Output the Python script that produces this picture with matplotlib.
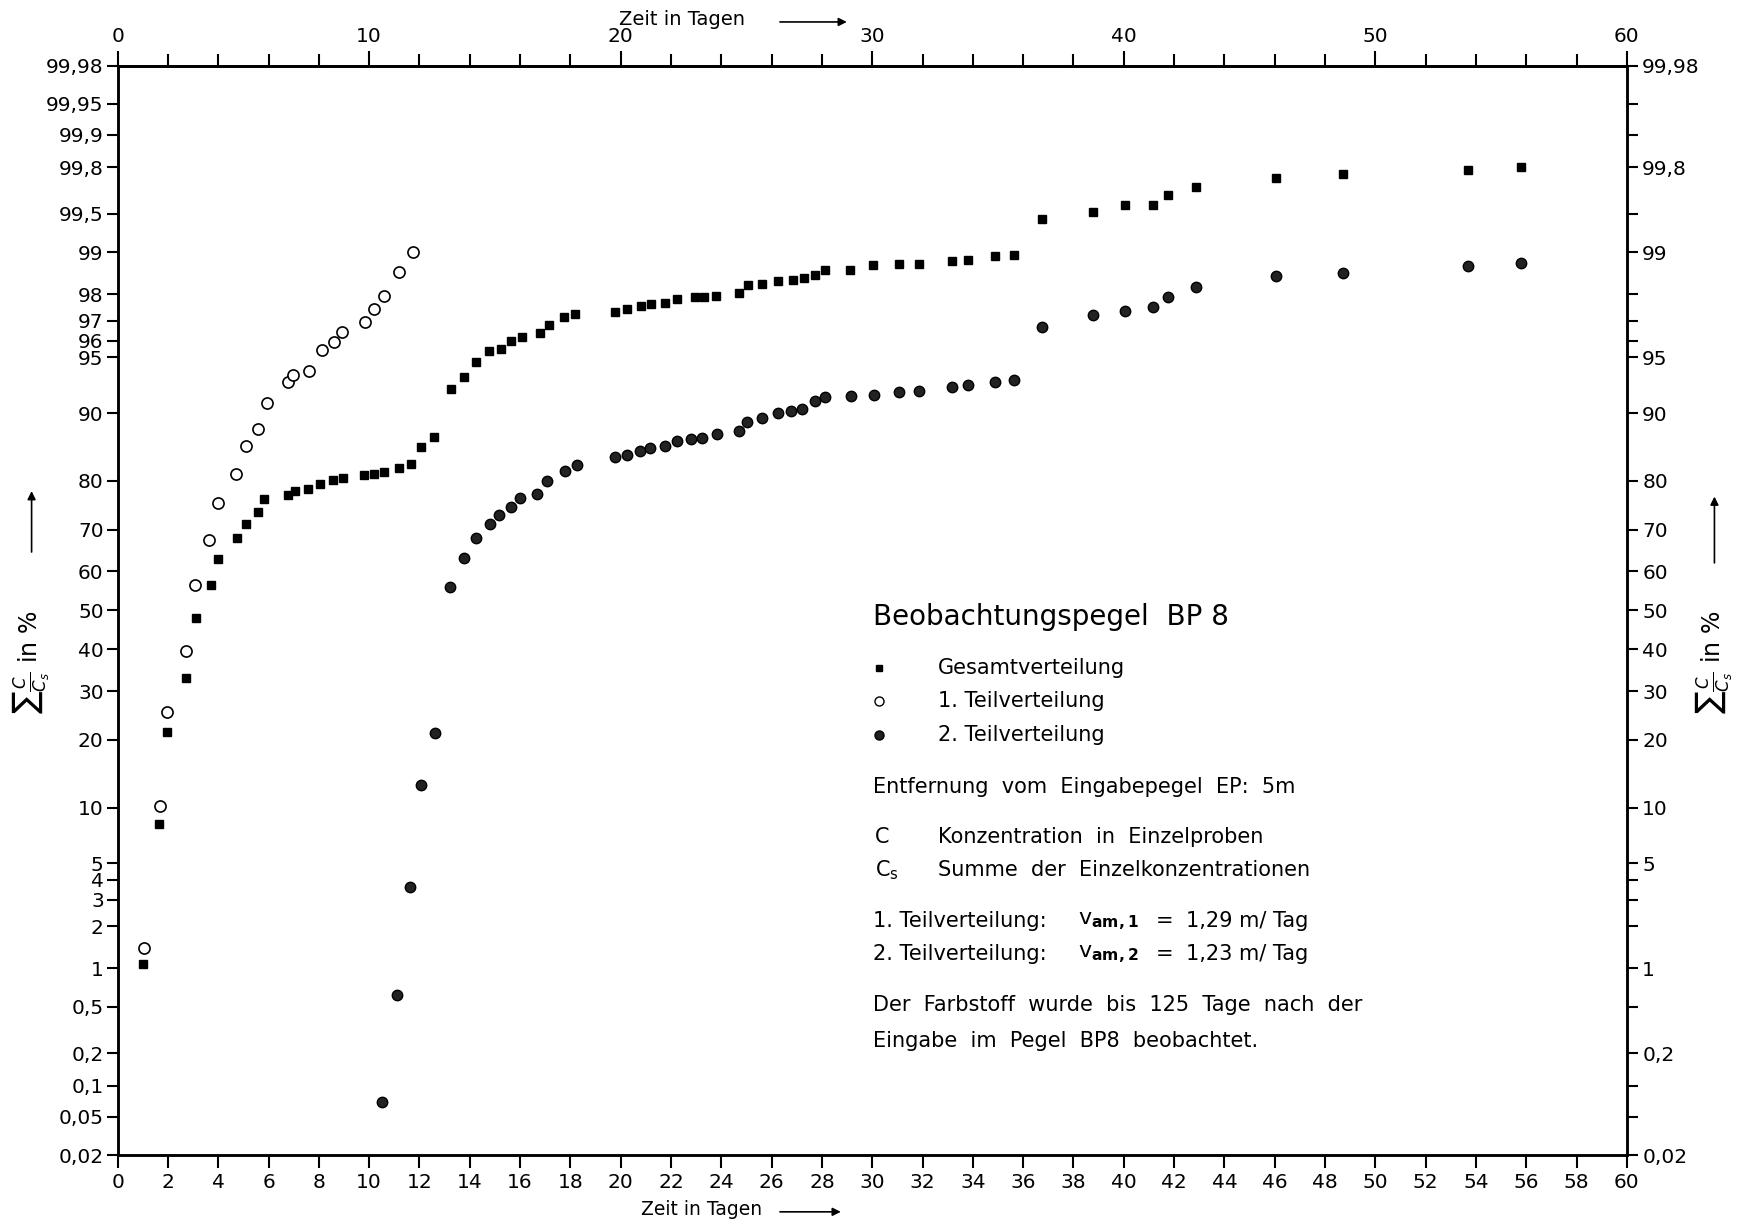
import numpy as np
import matplotlib
matplotlib.use("Agg")
import matplotlib.pyplot as plt
from statistics import NormalDist

ND = NormalDist()

# Gesamtverteilung (Quadrate): Zeit in Tagen, Summe C/Cs in %
gesamt_tage = [1.0, 1.64, 1.97, 2.72, 3.12, 3.71, 4.0, 4.73, 5.1, 5.57, 5.83, 6.76, 7.05,
               7.58, 8.05, 8.55, 8.97, 9.8, 10.2, 10.6, 11.2, 11.65, 12.05, 12.57, 13.24,
               13.77, 14.24, 14.78, 15.23, 15.62, 16.08, 16.78, 17.13, 17.76, 18.2, 19.76,
               20.23, 20.8, 21.22, 21.75, 22.22, 22.96, 23.33, 23.78, 24.7, 25.06, 25.6,
               26.24, 26.83, 27.3, 27.73, 28.14, 29.13, 30.03, 31.05, 31.85, 33.17, 33.82,
               34.86, 35.65, 36.73, 38.76, 40.05, 41.18, 41.76, 42.88, 46.05, 48.7, 53.7, 55.8]
gesamt_proz = [1.08, 8.3, 21.4, 33.0, 48.1, 56.5, 63.0, 68.2, 71.2, 73.8, 76.5, 77.3, 78.1,
               78.5, 79.5, 80.1, 80.6, 81.0, 81.3, 81.6, 82.3, 82.9, 85.6, 87.0, 92.5,
               93.5, 94.7, 95.4, 95.5, 96.0, 96.2, 96.4, 96.8, 97.15, 97.3, 97.36,
               97.5, 97.6, 97.68, 97.72, 97.84, 97.9, 97.9, 97.96, 98.03, 98.28, 98.31,
               98.37, 98.4, 98.45, 98.53, 98.66, 98.66, 98.76, 98.77, 98.77, 98.83, 98.85,
               98.94, 98.95, 99.45, 99.52, 99.58, 99.58, 99.65, 99.70, 99.75, 99.77, 99.79, 99.80]

# 1. Teilverteilung (offene Kreise)
teil1_tage = [1.05, 1.70, 1.98, 2.72, 3.08, 3.65, 4.0, 4.71, 5.1, 5.57, 5.93, 6.79, 6.99,
              7.62, 8.13, 8.61, 8.91, 9.84, 10.21, 10.6, 11.2, 11.73]
teil1_proz = [1.41, 10.2, 25.4, 39.6, 56.6, 67.7, 75.8, 81.3, 85.7, 88.1, 91.1, 93.07, 93.67,
              94.0, 95.46, 95.93, 96.47, 96.95, 97.5, 97.96, 98.61, 99.0]

# 2. Teilverteilung (gefuellte Kreise)
teil2_tage = [10.52, 11.1, 11.62, 12.08, 12.63, 13.21, 13.78, 14.24, 14.79, 15.16, 15.62,
              16.01, 16.68, 17.08, 17.79, 18.27, 19.76, 20.23, 20.75, 21.15, 21.75, 22.22,
              22.81, 23.25, 23.82, 24.7, 25.03, 25.6, 26.24, 26.76, 27.19, 27.71, 28.14,
              29.15, 30.07, 31.05, 31.85, 33.17, 33.82, 34.86, 35.65, 36.73, 38.76, 40.05,
              41.18, 41.76, 42.88, 46.05, 48.7, 53.7, 55.8]
teil2_proz = [0.07, 0.62, 3.6, 12.8, 21.3, 56.0, 63.2, 68.0, 71.2, 73.3, 74.9,
              76.8, 77.6, 80.0, 81.8, 82.8, 84.0, 84.4, 84.95, 85.4, 85.7, 86.4,
              86.7, 86.9, 87.35, 87.8, 88.9, 89.4, 90.05, 90.2, 90.5, 91.3, 91.7,
              91.8, 91.9, 92.2, 92.25, 92.67, 92.86, 93.12, 93.3, 96.7, 97.24, 97.4,
              97.57, 97.92, 98.23, 98.52, 98.58, 98.73, 98.79]

y_ticks = [0.02, 0.05, 0.1, 0.2, 0.5, 1, 2, 3, 4, 5, 10, 20, 30, 40, 50, 60, 70, 80, 90,
           95, 96, 97, 98, 99, 99.5, 99.8, 99.9, 99.95, 99.98]
y_rechts_beschriftet = [0.02, 0.2, 1, 5, 10, 20, 30, 40, 50, 60, 70, 80, 90, 95, 99, 99.8, 99.98]


def probit(p):
    p = np.clip(np.asarray(p, dtype=float) / 100.0, 1e-9, 1 - 1e-9)
    return np.vectorize(ND.inv_cdf, otypes=[float])(p)


def probit_inv(z):
    z = np.asarray(z, dtype=float)
    return np.vectorize(ND.cdf, otypes=[float])(z) * 100.0


def fmt(v):
    return f"{v:g}".replace(".", ",")


plt.rcParams['font.family'] = ['DejaVu Sans']
plt.rcParams['mathtext.fontset'] = 'dejavusans'

fig = plt.figure(figsize=(17.4, 12.25), dpi=100)
ax = fig.add_axes([0.0676, 0.057, 0.8674, 0.8895])

ax.set_yscale('function', functions=(probit, probit_inv))
ax.set_xlim(0, 60)
ax.set_ylim(0.02, 99.98)

# Messpunkte
ax.plot(gesamt_tage, gesamt_proz, ls='none', marker='s', ms=6, mfc='black', mec='black')
ax.plot(teil1_tage, teil1_proz, ls='none', marker='o', ms=8, mfc='white', mec='black', mew=1.2)
ax.plot(teil2_tage, teil2_proz, ls='none', marker='o', ms=7.5, mfc='#222222', mec='black')

for s in ax.spines.values():
    s.set_linewidth(1.8)

# linke Achse
ax.set_yticks(y_ticks)
ax.set_yticklabels([fmt(v) for v in y_ticks])
ax.yaxis.set_minor_locator(matplotlib.ticker.NullLocator())
ax.tick_params(axis='y', direction='out', length=8, width=1.5, labelsize=14.5, pad=2)

# untere Achse
ax.set_xticks(np.arange(0, 61, 2))
ax.tick_params(axis='x', direction='out', length=9, width=1.5, labelsize=14.5, pad=4)

# obere Achse
top = ax.secondary_xaxis('top')
top.set_xticks(np.arange(0, 61, 10))
top.set_xticks(np.arange(0, 61, 2), minor=True)
top.tick_params(axis='x', which='major', direction='out', length=11, width=1.5, labelsize=14.5, pad=3)
top.tick_params(axis='x', which='minor', direction='out', length=9, width=1.5)
top.spines['top'].set_linewidth(1.8)

# rechte Achse
ax2 = ax.twinx()
ax2.set_yscale('function', functions=(probit, probit_inv))
ax2.set_ylim(0.02, 99.98)
ax2.set_yticks(y_ticks)
ax2.set_yticklabels([fmt(v) if v in y_rechts_beschriftet else '' for v in y_ticks])
ax2.yaxis.set_minor_locator(matplotlib.ticker.NullLocator())
ax2.tick_params(axis='y', direction='out', length=8, width=1.5, labelsize=14.5, pad=3)
for s in ax2.spines.values():
    s.set_linewidth(1.8)

# Achsbeschriftungen mit Pfeilen
pfeil = dict(arrowstyle='-|>', lw=1.2, color='black', mutation_scale=12)
ax.text(0.347, -0.05, "Zeit in Tagen", transform=ax.transAxes, fontsize=13.5,
        ha='left', va='center')
ax.annotate('', xy=(0.481, -0.052), xytext=(0.437, -0.052), xycoords='axes fraction',
            arrowprops=pfeil, annotation_clip=False)
ax.text(0.332, 1.042, "Zeit in Tagen", transform=ax.transAxes, fontsize=14,
        ha='left', va='center')
ax.annotate('', xy=(0.485, 1.040), xytext=(0.437, 1.040), xycoords='axes fraction',
            arrowprops=pfeil, annotation_clip=False)

ylab = r"$\sum\frac{C}{C_s}$ in %"
ax.text(-0.057, 0.452, ylab, transform=ax.transAxes, fontsize=17, rotation=90,
        ha='center', va='center')
ax.annotate('', xy=(-0.057, 0.612), xytext=(-0.057, 0.551), xycoords='axes fraction',
            arrowprops=pfeil, annotation_clip=False)
ax.text(1.058, 0.452, ylab, transform=ax.transAxes, fontsize=17, rotation=90,
        ha='center', va='center')
ax.annotate('', xy=(1.058, 0.607), xytext=(1.058, 0.541), xycoords='axes fraction',
            arrowprops=pfeil, annotation_clip=False)

# Textblock
tx = 0.5007
tx2 = 0.5434
fs = 15
ax.text(tx, 0.494, "Beobachtungspegel  BP 8", transform=ax.transAxes, fontsize=20, va='center')
ax.plot([0.5044], [0.447], transform=ax.transAxes, ls='none', marker='s', ms=5,
        mfc='black', mec='black', clip_on=False)
ax.plot([0.5044], [0.4165], transform=ax.transAxes, ls='none', marker='o', ms=6.5,
        mfc='white', mec='black', clip_on=False)
ax.plot([0.5044], [0.386], transform=ax.transAxes, ls='none', marker='o', ms=6.5,
        mfc='#222222', mec='black', clip_on=False)
ax.text(tx2, 0.447, "Gesamtverteilung", transform=ax.transAxes, fontsize=fs, va='center')
ax.text(tx2, 0.4165, "1. Teilverteilung", transform=ax.transAxes, fontsize=fs, va='center')
ax.text(tx2, 0.386, "2. Teilverteilung", transform=ax.transAxes, fontsize=fs, va='center')
ax.text(tx, 0.338, "Entfernung  vom  Eingabepegel  EP:  5m", transform=ax.transAxes,
        fontsize=fs, va='center')
ax.text(tx + 0.001, 0.292, "C", transform=ax.transAxes, fontsize=fs, va='center')
ax.text(tx2, 0.292, "Konzentration  in  Einzelproben", transform=ax.transAxes,
        fontsize=fs, va='center')
ax.text(tx + 0.001, 0.2617, r"C$_\mathregular{s}$", transform=ax.transAxes, fontsize=fs, va='center')
ax.text(tx2, 0.2617, "Summe  der  Einzelkonzentrationen", transform=ax.transAxes,
        fontsize=fs, va='center')
for yy, nr, wert in [(0.2149, "1", "1,29"), (0.1843, "2", "1,23")]:
    ax.text(tx, yy, nr + ". Teilverteilung:", transform=ax.transAxes, fontsize=fs, va='center')
    ax.text(0.636, yy, r"v$_\mathbf{am," + nr + "}$", transform=ax.transAxes,
            fontsize=fs + 1, va='center')
    ax.text(0.688, yy, "=", transform=ax.transAxes, fontsize=fs, va='center')
    ax.text(0.708, yy, wert + " m/ Tag", transform=ax.transAxes, fontsize=fs, va='center')
ax.text(tx, 0.1375, "Der  Farbstoff  wurde  bis  125  Tage  nach  der", transform=ax.transAxes,
        fontsize=fs, va='center')
ax.text(tx, 0.1049, "Eingabe  im  Pegel  BP8  beobachtet.", transform=ax.transAxes,
        fontsize=fs, va='center')

fig.savefig("out.png", dpi=100)
